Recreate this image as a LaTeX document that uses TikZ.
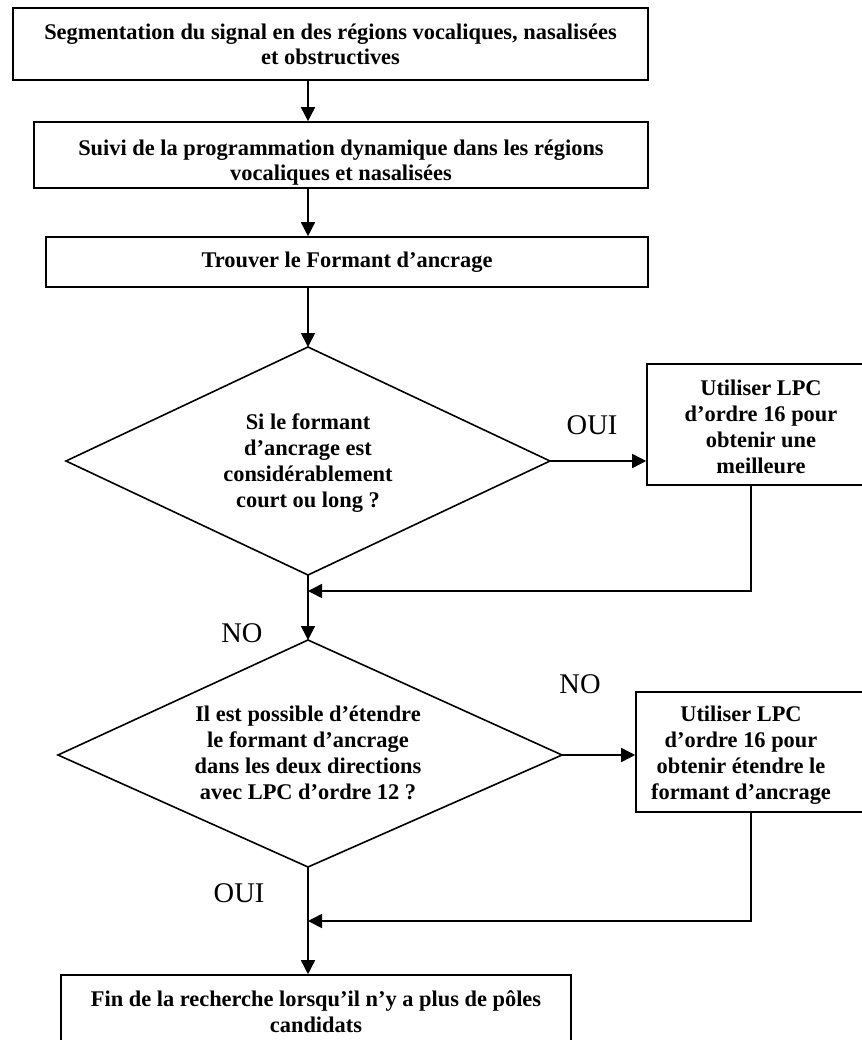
\documentclass[tikz,border=0pt]{standalone}
\usepackage{fontspec}
\setmainfont{Liberation Serif}
\usetikzlibrary{arrows.meta}
\begin{document}
\begin{tikzpicture}[x=1pt,y=-1pt,
  line width=1.6pt,
  boxtxt/.style={font=\fontsize{22.4}{25.7}\selectfont\bfseries, align=center, inner sep=0pt, anchor=base},
  lbl/.style={font=\fontsize{28.5}{30}\selectfont, inner sep=0pt, anchor=base},
  arr/.style={-{Triangle[length=14pt,width=14pt]}},
  framebox/.style={draw, rectangle, inner sep=0pt}
]
\useasboundingbox (0,0) rectangle (861,1040);

% boxes
\node[framebox, minimum width=635pt, minimum height=72pt] (b1) at (330.5,44) {};
\node[framebox, minimum width=614pt, minimum height=66pt] (b2) at (341,155) {};
\node[framebox, minimum width=602pt, minimum height=50pt] (b3) at (347,262) {};
\node[framebox, minimum width=233pt, minimum height=121pt] (b4) at (763.5,424.5) {};
\node[framebox, minimum width=244pt, minimum height=120pt] (b5) at (758,752) {};
\node[framebox, minimum width=510pt, minimum height=85pt] (b6) at (316,1017.5) {};

% diamonds
\coordinate (d1t) at (308,347);
\coordinate (d1r) at (550,461);
\coordinate (d1b) at (308,575);
\coordinate (d1l) at (66,461);
\draw (d1t) -- (d1r) -- (d1b) -- (d1l) -- cycle;

\coordinate (d2t) at (308,640);
\coordinate (d2r) at (562,755);
\coordinate (d2b) at (308,867);
\coordinate (d2l) at (58,755);
\draw (d2t) -- (d2r) -- (d2b) -- (d2l) -- cycle;

% texts (anchor base = baseline of last line)
\node[boxtxt] (t1) at (330.5,65) {Segmentation du signal en des régions vocaliques, nasalisées\\et obstructives};
\begin{scope}
  \clip (b2.south west) rectangle (b2.north east);
  \node[boxtxt] (t2) at (341,181) {Suivi de la programmation dynamique dans les régions\\vocaliques et nasalisées};
\end{scope}
\node[boxtxt] (t3) at (347,268) {Trouver le Formant d’ancrage};
\node[boxtxt] (t4) at (761,473) {Utiliser LPC\\d’ordre 16 pour\\obtenir une\\meilleure};
\begin{scope}
  \clip ([yshift=9pt]b5.south west) rectangle (b5.north east);
  \node[boxtxt] (t5) at (741,799) {Utiliser LPC\\d’ordre 16 pour\\obtenir étendre le\\formant d’ancrage};
\end{scope}
\node[boxtxt] (td1) at (308,507) {Si le formant\\d’ancrage est\\considérablement\\court ou long ?};
\node[boxtxt] (td2) at (308,799) {Il est possible d’étendre\\le formant d’ancrage\\dans les deux directions\\avec LPC d’ordre 12 ?};
\node[boxtxt] (t6) at (316,1032) {Fin de la recherche lorsqu’il n’y a plus de pôles\\candidats};

% labels
\node[lbl] (oui1) at (592,434) {OUI};
\node[lbl] (no1) at (580,693) {NO};
\node[lbl] (no2) at (242,642) {NO};
\node[lbl] (oui2) at (239,902) {OUI};

% connectors
\draw[arr] (b1.south -| d1t) -- (b2.north -| d1t);
\draw[arr] (b2.south -| d1t) -- (b3.north -| d1t);
\draw[arr] (b3.south -| d1t) -- (d1t);
\draw[arr] (d1r) -- (b4.west |- d1r);
\coordinate (f1) at (751,591);
\coordinate (m1) at (308,591);
\draw[arr] (b4.south -| f1) -- (f1) -- (m1);
\draw[arr] (d1b) -- (d2t);
\draw[arr] (d2r) -- (b5.west |- d2r);
\coordinate (f2) at (751,921);
\coordinate (m2) at (308,921);
\draw[arr] (b5.south -| f2) -- (f2) -- (m2);
\draw[arr] (d2b) -- (b6.north -| d2b);
\end{tikzpicture}
\end{document}
